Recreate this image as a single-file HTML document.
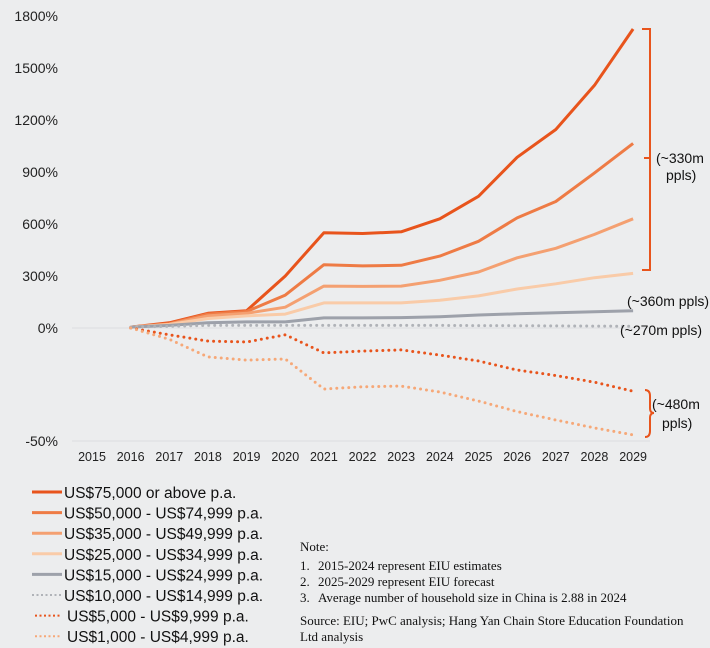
<!DOCTYPE html>
<html><head><meta charset="utf-8"><style>
body{margin:0;background:#ecedee;font-family:"Liberation Sans",sans-serif}
svg{display:block}
.tk{font-size:14px;fill:#222}
.xt{font-size:12.5px;fill:#222}
.lg{font-size:15.5px;fill:#111}
.nt{font-family:"Liberation Serif",serif;font-size:13px;fill:#111}
.an{font-size:14px;fill:#111}
</style></head><body>
<svg id="c" width="710" height="648"></svg>
<script>
const years=[2015,2016,2017,2018,2019,2020,2021,2022,2023,2024,2025,2026,2027,2028,2029];
const yTicks=[1800,1500,1200,900,600,300,0,-50];
const yTickLabels=["1800%","1500%","1200%","900%","600%","300%","0%","-50%"];
const seriesNames=["US$75,000 or above p.a.","US$50,000 - US$74,999 p.a.","US$35,000 - US$49,999 p.a.","US$25,000 - US$34,999 p.a.","US$15,000 - US$24,999 p.a.","US$10,000 - US$14,999 p.a.","US$5,000 - US$9,999 p.a.","US$1,000 - US$4,999 p.a."];
const s75k=[null,5,30,85,100,300,550,545,555,630,760,985,1145,1400,1725];
const s50k=[null,5,25,80,95,190,365,358,362,415,500,635,730,895,1065];
const s35k=[null,5,22,70,85,120,242,240,242,275,323,405,460,540,630];
const s25k=[null,5,20,55,70,80,145,145,145,160,185,225,255,290,315];
const s15k=[null,5,15,30,35,35,58,58,60,65,75,82,88,94,100];
const s10k=[null,5,10,15,15,15,15,15,15,15,14,13,12,11,10];
const s5k=[null,0,-3,-5.8,-6.2,-3,-11,-10.2,-9.7,-12,-14.6,-18.6,-21,-24,-28];
const s1k=[null,0,-5,-12.8,-14.2,-13.7,-27,-26,-25.7,-28.3,-32.3,-37,-40.7,-44.2,-47.3];
const series=[s75k,s50k,s35k,s25k,s15k,s10k,s5k,s1k];
const colors=["#e8541c","#ee7b45","#f4a071","#f9cba8","#9da1aa","#b0b3b8","#e8541c","#f6a878"];
const dotted=[false,false,false,false,false,true,true,true];
const widths=[3,3,3,3,3,3,3,3];
const NS="http://www.w3.org/2000/svg";
const svg=document.getElementById('c');
function x(i){return 92+i*38.65;}
function y(v){return v>=0?328-v*(312/1800):328-v*(113/50);}
function mk(t,a){const e=document.createElementNS(NS,t);for(const k in a)e.setAttribute(k,a[k]);svg.appendChild(e);return e;}
[0,-50].forEach(v=>{const g=mk('line',{x1:72,x2:650,y1:y(v),y2:y(v),stroke:'#dcdde0','stroke-width':1});

});
yTicks.forEach((v,i)=>{const t=mk('text',{x:58,y:y(v)+5,'text-anchor':'end',class:'tk'});t.textContent=yTickLabels[i];

});
years.forEach((yr,i)=>{const t=mk('text',{x:x(i),y:461,'text-anchor':'middle',class:'xt'});t.textContent=yr;

});
series.forEach((s,k)=>{let d='';s.forEach((v,i)=>{if(v===null)return;d+=(d?'L':'M')+x(i).toFixed(1)+' '+y(v).toFixed(1);});
const a={d:d,fill:'none',stroke:colors[k],'stroke-width':widths[k],'stroke-linejoin':'round'};
if(dotted[k]){a['stroke-dasharray']='0 6';a['stroke-linecap']='round';}
const p=mk('path',a);

});
const b1=mk('path',{d:'M642 29H650V270H642M650 158H644',fill:'none',stroke:'#e8541c','stroke-width':2});


const b2=mk('path',{d:'M645 390Q650 390 650 396V408Q650 413 654 413Q650 413 650 418V431Q650 437 645 437',fill:'none',stroke:'#e8541c','stroke-width':2});


const ann=[["(~330m",656,163],["ppls)",666,180],["(~360m ppls)",627,306],["(~270m ppls)",620,335],["(~480m",652,409],["ppls)",662,428]];
ann.forEach(a=>{const t=mk('text',{x:a[1],y:a[2],class:'an'});t.textContent=a[0];

});
seriesNames.forEach((n,k)=>{const yy=492+k*20.6;const off=k>=6?3:0;
const a={x1:32+off,x2:62,y1:yy,y2:yy,stroke:colors[k],'stroke-width':dotted[k]?2:3};
if(dotted[k]){a['stroke-dasharray']='2 2.5';}
const l=mk('line',a);


const t=mk('text',{x:64+off,y:yy+6,class:'lg'});t.textContent=n;

});
const notes=[["Note:",300,551],["2015-2024 represent EIU estimates",318,570],["2025-2029 represent EIU forecast",318,586],["Average number of household size in China is 2.88 in 2024",318,602],["Source: EIU; PwC analysis; Hang Yan Chain Store Education Foundation",300,625],["Ltd analysis",300,641]];
notes.forEach(a=>{const t=mk('text',{x:a[1],y:a[2],class:'nt'});t.textContent=a[0];

});
["1.","2.","3."].forEach((n,i)=>{const t=mk('text',{x:300,y:570+i*16,class:'nt'});t.textContent=n;

});
</script>
</body></html>
